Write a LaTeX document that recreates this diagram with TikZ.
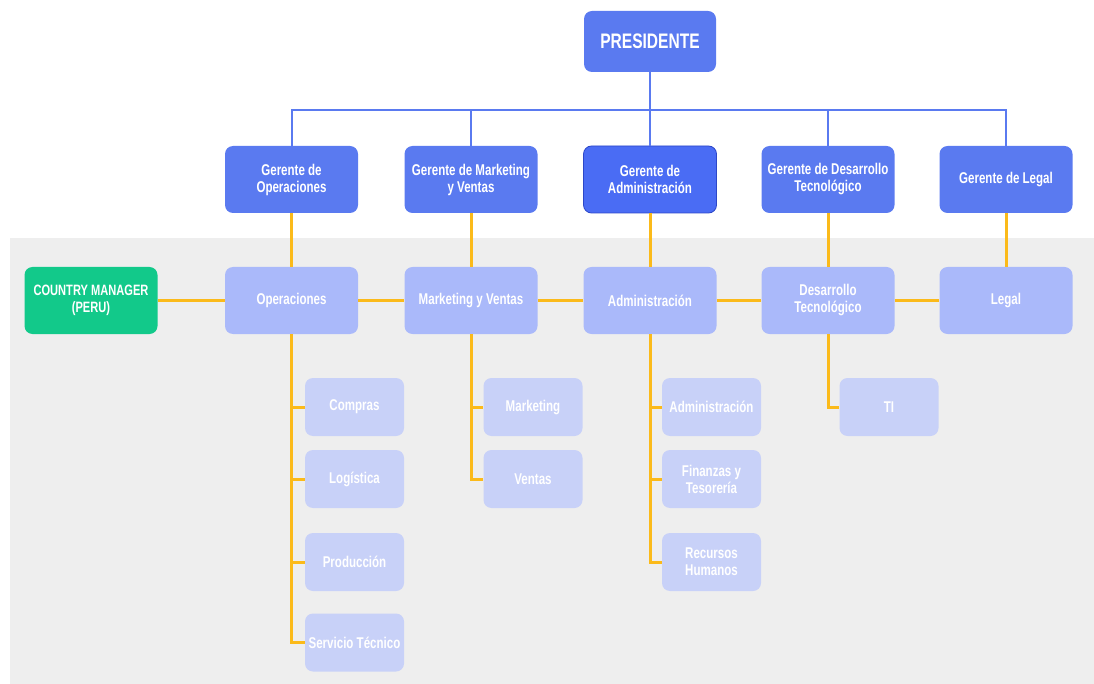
\documentclass[tikz,border=0pt]{standalone}
\usepackage{fontspec}
\setmainfont{Liberation Sans}[FakeStretch=0.74]
\definecolor{topblue}{HTML}{5A7AF0}
\definecolor{admblue}{HTML}{4A6CF4}
\definecolor{admedge}{HTML}{2C47C8}
\definecolor{deptlav}{HTML}{AAB9FA}
\definecolor{sublav}{HTML}{C8D1F8}
\definecolor{panelgray}{HTML}{EEEEEE}
\definecolor{linkorange}{HTML}{FBBA1A}
\definecolor{cmgreen}{HTML}{12C98A}
\tikzset{
  base/.style={rounded corners=8pt, align=center, text=white, inner sep=2pt,
    font=\bfseries\fontsize{15.6}{17}\selectfont},
  headbox/.style={base, fill=topblue, minimum width=132pt, minimum height=61pt,
    font=\bfseries\fontsize{21}{23}\selectfont},
  mgrbox/.style={base, fill=topblue, minimum width=133pt, minimum height=67pt},
  mgrsel/.style={mgrbox, fill=admblue, draw=admedge, line width=0.8pt},
  deptbox/.style={base, fill=deptlav, minimum width=133pt, minimum height=67pt},
  cmbox/.style={base, fill=cmgreen, minimum width=133pt, minimum height=67pt,
    font=\bfseries\fontsize{15}{16.5}\selectfont},
  subbox/.style={base, fill=sublav, minimum width=99pt, minimum height=58pt, inner sep=0pt},
  blueline/.style={draw=topblue, line width=2pt},
  orangeline/.style={draw=linkorange, line width=3pt},
}
\begin{document}
\begin{tikzpicture}[x=1pt, y=-1pt]
\useasboundingbox (0,0) rectangle (1094,684);
\fill[panelgray] (10,238) rectangle (1094,684);

% top of the chart
\node[headbox] (pres) at (650,41.5) {PRESIDENTE};
\coordinate (bus) at (650,110);

\node[mgrbox] (g1) at (291.5,179.5) {Gerente de\\Operaciones};
\node[mgrbox] (g2) at (471,179.5) {Gerente de Marketing\\y Ventas};
\node[mgrsel] (g3) at (650,179.5) {Gerente de\\Administración};
\node[mgrbox] (g4) at (828,179.5) {Gerente de Desarrollo\\Tecnológico};
\node[mgrbox] (g5) at (1006,179.5) {Gerente de Legal};

% departments
\node[cmbox] (cm) at (91,300.5) {COUNTRY MANAGER\\(PERU)};
\node[deptbox] (d1) at (291.5,300.5) {Operaciones};
\node[deptbox] (d2) at (471,300.5) {Marketing y Ventas};
\node[deptbox] (d3) at (650,300.5) {Administración};
\node[deptbox] (d4) at (828,300.5) {Desarrollo\\Tecnológico};
\node[deptbox] (d5) at (1006,300.5) {Legal};

% areas
\node[subbox] (s11) at (354.5,407) {Compras};
\node[subbox] (s12) at (354.5,479) {Logística};
\node[subbox] (s13) at (354.5,562) {Producción};
\node[subbox] (s14) at (354.5,642.5) {Servicio Técnico};
\node[subbox] (s21) at (533,407) {Marketing};
\node[subbox] (s22) at (533,479) {Ventas};
\node[subbox] (s31) at (711.5,407) {Administración};
\node[subbox] (s32) at (711.5,479) {Finanzas y\\Tesorería};
\node[subbox] (s33) at (711.5,562) {Recursos\\Humanos};
\node[subbox] (s41) at (889,407) {TI};

% reporting lines
\draw[blueline] (pres.south) -- (bus);
\foreach \g in {g1,g2,g3,g4,g5} \draw[blueline] (\g.north) |- (bus);

\foreach \g/\d in {g1/d1,g2/d2,g3/d3,g4/d4,g5/d5}
  \draw[orangeline] (\g.south) -- (\d.north);
\draw[orangeline] (cm.east) -- (d1.west);
\draw[orangeline] (d1.east) -- (d2.west);
\draw[orangeline] (d2.east) -- (d3.west);
\draw[orangeline] (d3.east) -- (d4.west);
\draw[orangeline] (d4.east) -- (d5.west);

\foreach \d/\s in {d1/s11,d1/s12,d1/s13,d1/s14,d2/s21,d2/s22,d3/s31,d3/s32,d3/s33,d4/s41}
  \draw[orangeline] (\d.south) |- (\s.west);
\end{tikzpicture}
\end{document}
